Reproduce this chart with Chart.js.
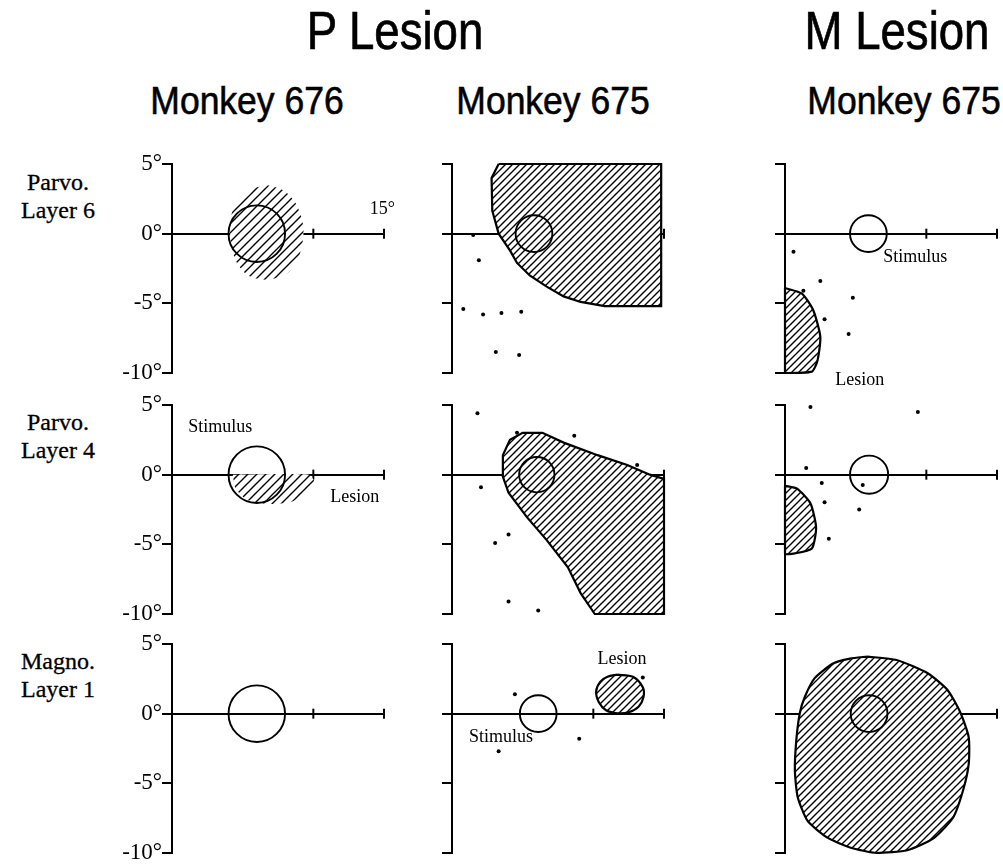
<!DOCTYPE html>
<html>
<head>
<meta charset="utf-8">
<script src="https://cdn.jsdelivr.net/npm/chart.js@4.4.1/dist/chart.umd.min.js"></script>
<style>
  html, body { margin: 0; padding: 0; background: #fff; overflow: hidden; }
  body { width: 1003px; height: 867px; position: relative; }
  .t { position: absolute; white-space: nowrap; color: #000; text-align: center; }
  .group { font-family: 'Liberation Sans', Arial, sans-serif; font-size: 53px; line-height: 53px; width: 400px; transform: scaleX(0.86); -webkit-text-stroke: 0.7px #000; }
  .monkey { font-family: 'Liberation Sans', Arial, sans-serif; font-size: 39px; line-height: 39px; width: 300px; transform: scaleX(0.91); -webkit-text-stroke: 0.6px #000; }
  .row { font-family: 'Liberation Serif', 'Times New Roman', serif; font-size: 24px; line-height: 28px; width: 110px; -webkit-text-stroke: 0.3px #000; }
  canvas { position: absolute; }
</style>
</head>
<body>
<script>
// ---- data (degrees of visual field) ----
const groupTitles = ['P Lesion', 'M Lesion'];
const columnTitles = ['Monkey 676', 'Monkey 675', 'Monkey 675'];
const rowLabels = [['Parvo.', 'Layer 6'], ['Parvo.', 'Layer 4'], ['Magno.', 'Layer 1']];
const yTickValues = [5, 0, -5, -10];
const xCrossTicks = [10, 15];

// stimulus [x, y, radius]  rows: layer 6, layer 4, layer 1 / cols: P676, P675, M675
const stimuli = [
  [[6.0, 0, 2.0], [5.8, 0, 1.3], [5.9, 0, 1.3]],
  [[6.0, 0, 2.0], [6.0, 0, 1.25], [5.95, 0, 1.35]],
  [[6.0, 0, 2.0], [6.1, 0, 1.3], [5.95, 0, 1.3]]
];

// lesion outlines
const lesionP676Layer6 = [[6.7, 3.5], [7.9, 3.1], [8.8, 2.1], [9.3, 0.4], [9.0, -1.6], [8.1, -2.9], [6.7, -3.3],
  [5.4, -3.0], [4.5, -1.9], [4.1, 0.1], [4.4, 2.0], [5.4, 3.1], [6.7, 3.5]];
const lesionP675Layer6 = [[3.3, 5.0], [14.8, 5.0], [14.8, -5.2], [10.8, -5.2], [9.1, -4.9], [7.9, -4.5], [6.7, -3.8],
  [5.5, -3.0], [4.6, -2.1], [4.1, -1.2], [3.3, 0], [2.85, 1.65], [2.8, 4.0], [3.3, 5.0]];
const lesionM675Layer6 = [[0, -3.9], [1.2, -4.3], [2.0, -5.5], [2.5, -7.4], [2.3, -9.1], [1.9, -9.9], [0, -10], [0, -3.9]];
const lesionP676Layer4 = [[4.3, 0], [9.7, 0], [10.1, -0.6], [9.4, -1.5], [8.3, -2.0], [6.8, -2.1], [5.3, -1.8], [4.5, -1.0], [4.3, 0]];
const lesionP675Layer4 = [[3.55, 0], [3.6, 1.4], [4.1, 2.5], [5.0, 3.0], [6.4, 3.0], [7.9, 2.3], [10.3, 1.4], [12.4, 0.7],
  [14.0, 0], [15.0, -0.3], [15.0, -10], [10.1, -10], [9.1, -8.5], [8.2, -6.65], [6.7, -4.7], [5.3, -3.05], [4.0, -1.3], [3.55, 0]];
const lesionM675Layer4 = [[0, -0.8], [0.85, -1.0], [1.8, -2.05], [2.2, -3.8], [1.9, -5.3], [0.7, -5.65], [0, -5.65], [0, -0.8]];
const lesionP675Layer1 = [[11.7, 2.8], [12.8, 2.65], [13.5, 1.9], [13.55, 1.2], [13.2, 0.5], [12.5, 0.1], [11.7, 0.03],
  [10.9, 0.25], [10.4, 0.8], [10.2, 1.6], [10.5, 2.3], [11.0, 2.65], [11.7, 2.8]];
const lesionM675Layer1 = [[5.8, 4.1], [7.9, 3.85], [10.1, 2.9], [11.5, 1.7], [12.4, 0.1], [13.0, -1.7], [13.0, -3.6],
  [12.6, -5.5], [11.9, -7.45], [10.5, -8.95], [8.65, -9.8], [6.5, -10.0], [4.6, -9.6], [3.0, -8.9], [1.6, -7.7],
  [0.9, -6.0], [0.7, -4.1], [0.8, -1.9], [1.05, 0.05], [1.4, 1.2], [2.1, 2.55], [3.4, 3.6], [4.6, 3.95], [5.8, 4.1]];

// recording sites
const sitesP675Layer6 = [[1.5, -0.1], [1.9, -1.9], [0.8, -5.4], [2.2, -5.8], [3.5, -5.7], [4.9, -5.6], [3.1, -8.5], [4.75, -8.7]];
const sitesM675Layer6 = [[0.6, -1.3], [2.5, -3.4], [1.3, -4.1], [4.8, -4.6], [2.8, -6.15], [4.5, -7.2]];
const sitesP675Layer4 = [[1.8, 4.4], [4.6, 3.0], [8.65, 2.8], [13.1, 0.7], [2.05, -0.9], [4.0, -4.3], [3.05, -4.9], [4.0, -9.1], [6.1, -9.75]];
const sitesM675Layer4 = [[1.8, 4.85], [9.4, 4.5], [1.5, 0.47], [2.6, -0.6], [5.5, -0.75], [2.8, -1.98], [5.25, -2.5], [3.1, -4.6]];
const sitesP675Layer1 = [[4.45, 1.4], [3.3, -2.7], [9.0, -1.8], [13.5, 2.6]];

// text notes placed in data coordinates (left edge, middle)
const notesP676Layer6 = [{text: '15°', x: 14.0, y: 1.75}];
const notesP676Layer4 = [{text: 'Stimulus', x: 1.15, y: 3.4}, {text: 'Lesion', x: 11.2, y: -1.6}];
const notesM675Layer6 = [{text: 'Stimulus', x: 6.95, y: -1.7}, {text: 'Lesion', x: 3.55, y: -10.55}];
const notesP675Layer1 = [{text: 'Lesion', x: 10.3, y: 3.9}, {text: 'Stimulus', x: 1.2, y: -1.7}];

// ---- layout ----
const COL_AXIS = [172, 452, 785];
const ROW_TOP = [164, 405, 644];
const PLOT_W = 212, PLOT_H = 209;
const PAD_L = 2, PAD_T = 16, PAD_B = 22, PAD_R = 26;
const GROUP_CENTRE = [395, 897];
const COLUMN_CENTRE = [247, 553, 904];
const ROW_LABEL_TOP = [168, 408, 647];

const panels = [
  {row: 0, col: 0, lesion: lesionP676Layer6, outline: false, step: 9, tension: 0.3, notes: notesP676Layer6},
  {row: 0, col: 1, lesion: lesionP675Layer6, outline: true, step: 7, tension: 0, sites: sitesP675Layer6},
  {row: 0, col: 2, lesion: lesionM675Layer6, outline: true, step: 7, tension: 0.2, sites: sitesM675Layer6, notes: notesM675Layer6},
  {row: 1, col: 0, lesion: lesionP676Layer4, outline: false, step: 9, tension: 0.2, notes: notesP676Layer4},
  {row: 1, col: 1, lesion: lesionP675Layer4, outline: true, step: 7, tension: 0, sites: sitesP675Layer4},
  {row: 1, col: 2, lesion: lesionM675Layer4, outline: true, step: 7, tension: 0.2, sites: sitesM675Layer4},
  {row: 2, col: 0},
  {row: 2, col: 1, lesion: lesionP675Layer1, outline: true, step: 7, tension: 0.3, sites: sitesP675Layer1, notes: notesP675Layer1},
  {row: 2, col: 2, lesion: lesionM675Layer1, outline: true, step: 7, tension: 0.2}
];

function addText(cls, html, left, top) {
  const d = document.createElement('div');
  d.className = 't ' + cls;
  d.innerHTML = html;
  d.style.left = left + 'px';
  d.style.top = top + 'px';
  document.body.appendChild(d);
}

groupTitles.forEach((t, i) => addText('group', t, GROUP_CENTRE[i] - 200, 4));
columnTitles.forEach((t, i) => addText('monkey', t, COLUMN_CENTRE[i] - 150, 81));
rowLabels.forEach((l, i) => addText('row', l.join('<br>'), 3, ROW_LABEL_TOP[i]));

function hatch(step) {
  const c = document.createElement('canvas');
  c.width = c.height = step;
  const g = c.getContext('2d');
  g.fillStyle = '#fff';
  g.fillRect(0, 0, step, step);
  g.strokeStyle = '#000';
  g.lineWidth = 1.4;
  g.beginPath();
  g.moveTo(-1, step + 1); g.lineTo(step + 1, -1);
  g.moveTo(-1, 1); g.lineTo(1, -1);
  g.moveTo(step - 1, step + 1); g.lineTo(step + 1, step - 1);
  g.stroke();
  return g.createPattern(c, 'repeat');
}

const toPoints = arr => arr.map(([x, y]) => ({x, y}));

function panelPlugin(notes) {
  return {
    id: 'panelMarks',
    beforeDatasetsDraw(chart) {
      const {ctx, scales: {x, y}} = chart;
      const y0 = y.getPixelForValue(0);
      ctx.save();
      ctx.strokeStyle = '#000';
      ctx.lineWidth = 2;
      xCrossTicks.forEach(v => {
        const px = x.getPixelForValue(v);
        ctx.beginPath();
        ctx.moveTo(px, y0 - 5);
        ctx.lineTo(px, y0 + 5);
        ctx.stroke();
      });
      ctx.restore();
    },
    afterDatasetsDraw(chart) {
      if (!notes) return;
      const {ctx, scales: {x, y}} = chart;
      ctx.save();
      ctx.fillStyle = '#000';
      ctx.font = '18px "Liberation Serif", serif';
      ctx.textAlign = 'left';
      ctx.textBaseline = 'middle';
      notes.forEach(n => ctx.fillText(n.text, x.getPixelForValue(n.x), y.getPixelForValue(n.y)));
      ctx.restore();
    }
  };
}

panels.forEach(p => {
  const axisW = p.col === 0 ? 62 : 12;
  const canvas = document.createElement('canvas');
  canvas.width = PAD_L + axisW + PLOT_W + PAD_R;
  canvas.height = PAD_T + PLOT_H + PAD_B;
  canvas.style.left = (COL_AXIS[p.col] - axisW - PAD_L) + 'px';
  canvas.style.top = (ROW_TOP[p.row] - PAD_T) + 'px';
  document.body.appendChild(canvas);

  const [sx, sy, sr] = stimuli[p.row][p.col];
  const datasets = [{
    data: [{x: sx, y: sy, r: sr}],
    pointRadius: ctx => {
      if (!ctx.raw) return 0;
      const s = ctx.chart.scales.x;
      return s.getPixelForValue(ctx.raw.r) - s.getPixelForValue(0);
    },
    pointBorderWidth: 1.9,
    pointBorderColor: '#000',
    pointBackgroundColor: 'rgba(0,0,0,0)',
    fill: false,
    clip: false,
    order: 1
  }];
  if (p.sites) {
    datasets.push({
      data: toPoints(p.sites),
      pointRadius: 2,
      pointBorderWidth: 0,
      pointBackgroundColor: '#000',
      fill: false,
      clip: false,
      order: 2
    });
  }
  if (p.lesion) {
    datasets.push({
      data: toPoints(p.lesion),
      showLine: true,
      fill: 'shape',
      backgroundColor: hatch(p.step),
      borderColor: '#000',
      borderWidth: p.outline ? 2.2 : 0,
      pointRadius: 0,
      tension: p.tension,
      clip: false,
      order: 3
    });
  }

  new Chart(canvas.getContext('2d'), {
    type: 'scatter',
    data: {datasets},
    options: {
      responsive: false,
      animation: false,
      events: [],
      layout: {autoPadding: false, padding: {left: PAD_L, right: PAD_R, top: PAD_T, bottom: PAD_B}},
      plugins: {legend: {display: false}, tooltip: {enabled: false}},
      scales: {
        x: {
          type: 'linear', min: 0, max: 15,
          position: {y: 0},
          ticks: {display: false},
          grid: {display: false},
          border: {display: true, color: '#000', width: 2}
        },
        y: {
          type: 'linear', min: -10, max: 5,
          position: 'left',
          afterBuildTicks: s => { s.ticks = yTickValues.map(v => ({value: v})); },
          afterFit: s => { s.width = axisW; },
          ticks: {
            display: p.col === 0,
            padding: 0,
            color: '#000',
            font: {family: 'Liberation Serif', size: 23},
            callback: v => v + '°'
          },
          grid: {drawOnChartArea: false, drawTicks: true, tickLength: 10, tickWidth: 2, tickColor: '#000', color: '#000', lineWidth: 2},
          border: {display: true, color: '#000', width: 2}
        }
      }
    },
    plugins: [panelPlugin(p.notes)]
  });
});
</script>
</body>
</html>
